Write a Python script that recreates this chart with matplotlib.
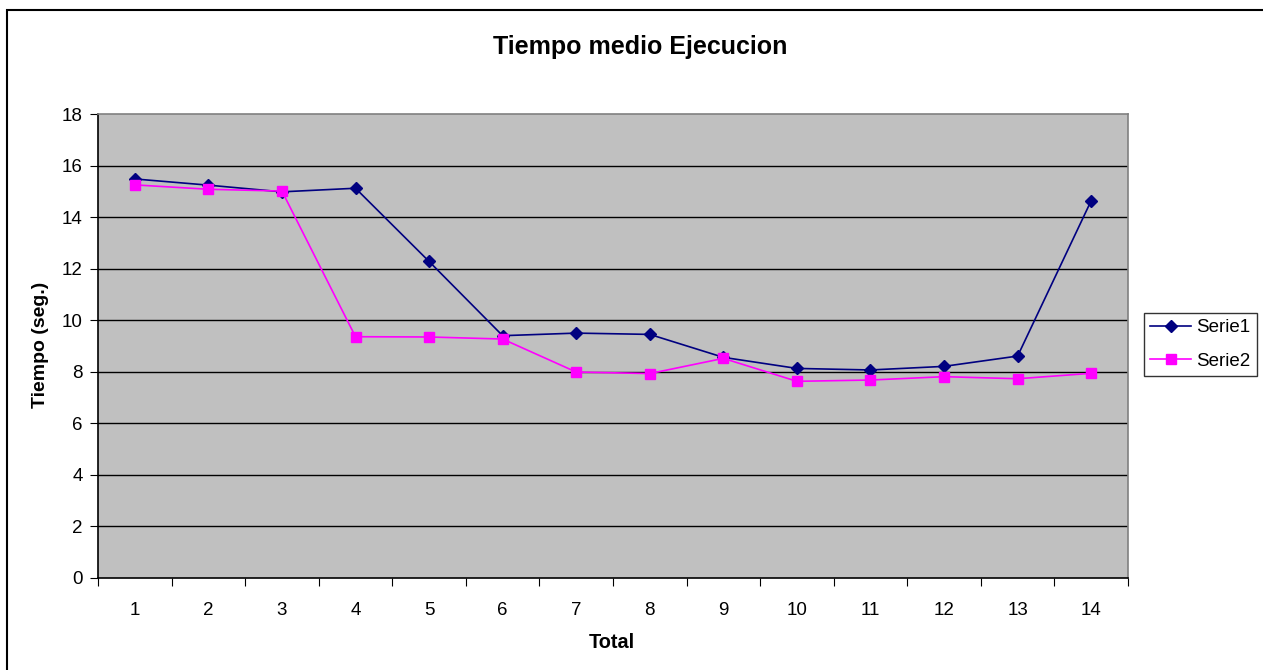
import matplotlib
matplotlib.use("Agg")
import matplotlib.pyplot as plt
from matplotlib.patches import Rectangle

categories = [str(i) for i in range(1, 15)]
serie1 = [15.48, 15.24, 14.98, 15.12, 12.28, 9.40, 9.50, 9.45, 8.56, 8.13, 8.07, 8.21, 8.61, 14.64]
serie2 = [15.25, 15.08, 15.01, 9.36, 9.35, 9.27, 7.99, 7.93, 8.52, 7.63, 7.68, 7.81, 7.73, 7.94]
yticks = [0, 2, 4, 6, 8, 10, 12, 14, 16, 18]

plt.rcParams['font.family'] = ['Liberation Sans', 'DejaVu Sans']

W, H = 1263, 670
fig = plt.figure(figsize=(W / 100, H / 100), dpi=100)
fig.patch.set_facecolor('white')

# outer chart border
fig.patches.append(Rectangle((7 / W, -0.05), 1.2, 1 - 10 / H + 0.05, transform=fig.transFigure,
                             fill=False, edgecolor='black', linewidth=1.5, zorder=0))

left, right, top, bottom = 98 / W, 1128 / W, 1 - 114 / H, 1 - 578 / H
ax = fig.add_axes([left, bottom, right - left, top - bottom])
ax.set_facecolor('#C0C0C0')

x = list(range(1, len(categories) + 1))
ax.plot(x, serie1, color='#000080', marker='D', markersize=6, linewidth=1.2, label='Serie1', zorder=3)
ax.plot(x, serie2, color='#FF00FF', marker='s', markersize=6.5, linewidth=1.2, label='Serie2', zorder=3)

ax.set_xlim(0.5, len(categories) + 0.5)
ax.set_ylim(0, 18)
ax.set_yticks(yticks)
ax.set_yticklabels([str(v) for v in yticks])
for v in yticks[1:-1]:
    ax.axhline(v, color='black', linewidth=1.0, zorder=1)

ax.set_xticks([i + 0.5 for i in range(0, len(categories) + 1)])
ax.set_xticklabels([])
ax.set_xticks(x, minor=True)
ax.set_xticklabels(categories, minor=True)
ax.tick_params(axis='x', which='minor', length=0, pad=17, labelsize=13.5)
ax.tick_params(axis='x', which='major', length=6, direction='out', color='black')
ax.tick_params(axis='y', length=6, direction='out', labelsize=13.5, pad=5, color='black')

ax.spines['top'].set_color('#808080')
ax.spines['right'].set_color('#808080')
ax.spines['left'].set_color('black')
ax.spines['bottom'].set_color('black')
for s in ax.spines.values():
    s.set_linewidth(1.2)

ax.set_xlabel('Total', fontsize=14.3, fontweight='bold', va='center')
ax.xaxis.set_label_coords((611.5 - 98) / (1128 - 98), (578 - 642) / (578 - 114))
ax.set_ylabel('Tiempo (seg.)', fontsize=14, fontweight='bold', va='center')
ax.yaxis.set_label_coords((40.7 - 98) / (1128 - 98), (578 - 344.5) / (578 - 114))
fig.text(640 / W, 1 - 54 / H, 'Tiempo medio Ejecucion', ha='center', va='baseline',
         fontsize=18, fontweight='bold')

leg = ax.legend(loc='upper left', bbox_to_anchor=((1144 - 98) / (1128 - 98), (578 - 313) / (578 - 114)),
                frameon=True, fancybox=False, edgecolor='black', fontsize=13.5,
                handlelength=2.2, borderpad=0.33, labelspacing=0.88, handletextpad=0.27,
                borderaxespad=0)
leg.get_frame().set_linewidth(1.0)

fig.savefig('out.png', dpi=100)
